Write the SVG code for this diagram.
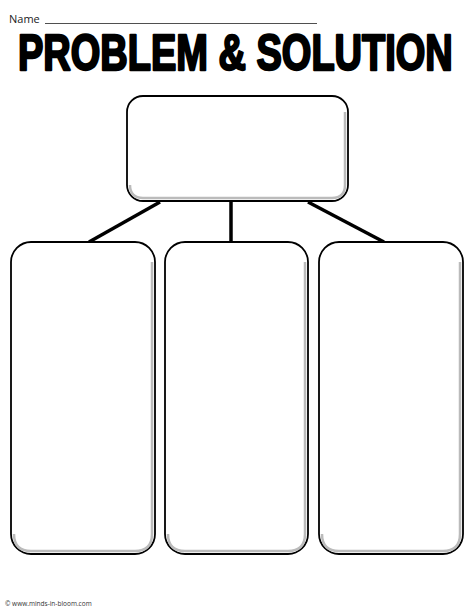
<svg xmlns="http://www.w3.org/2000/svg" width="474" height="613" viewBox="0 0 474 613">
<style>
.box{fill:#fff;stroke:#000;stroke-width:1.8}
.shade{fill:none;stroke:#bbb;stroke-width:2.5}
.conn{stroke:#000;stroke-width:3.5;fill:none}
</style>
<rect width="474" height="613" fill="#fff"/>
<text x="9" y="23" font-family="Open Sans, sans-serif" font-size="11" fill="#222">Name</text>
<line x1="45" y1="23.5" x2="317" y2="23.5" stroke="#222" stroke-width="0.8"/>
<text transform="translate(18,70) scale(1,1.3)" x="0" y="0" font-family="Liberation Sans, Arial, sans-serif" font-weight="bold" font-size="38" stroke="#000" stroke-width="1.8" stroke-linejoin="round" fill="#000">PROBLEM &amp; SOLUTION</text>
<g id="connectors">
<line class="conn" x1="160" y1="202" x2="89" y2="242"/>
<line class="conn" x1="231" y1="202" x2="231" y2="242"/>
<line class="conn" x1="308" y1="202" x2="384" y2="242"/>
</g>
<g id="problem">
<rect class="box" x="127" y="96" width="221" height="105" rx="16"/>
<path class="shade" d="M130 185 Q130 198 143 198 L332 198 Q345 198 345 185 L345 112"/>
</g>
<g id="solution1">
<rect class="box" x="11" y="242" width="144" height="312" rx="20"/>
<path class="shade" d="M14 534 Q14 551 31 551 L135 551 Q152 551 152 534 L152 262"/>
</g>
<g id="solution2">
<rect class="box" x="165" y="242" width="143" height="312" rx="20"/>
<path class="shade" d="M168 534 Q168 551 185 551 L288 551 Q305 551 305 534 L305 262"/>
</g>
<g id="solution3">
<rect class="box" x="319" y="242" width="144" height="312" rx="20"/>
<path class="shade" d="M322 534 Q322 551 339 551 L443 551 Q460 551 460 534 L460 262"/>
</g>
<text x="5" y="606" font-family="Open Sans, sans-serif" font-size="6.5" fill="#333">© www.minds-in-bloom.com</text>
</svg>
